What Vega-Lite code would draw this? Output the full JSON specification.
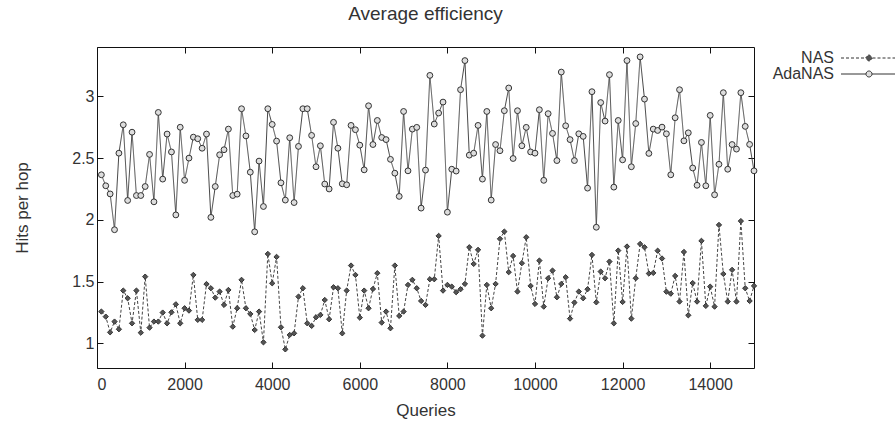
{
  "$schema": "https://vega.github.io/schema/vega-lite/v6.json",
  "width": 657,
  "height": 321,
  "autosize": {"type": "none"},
  "padding": {"left": 97, "top": 47, "right": 141, "bottom": 60},
  "background": "white",
  "config": {
    "font": "Liberation Sans",
    "view": {"stroke": "#111", "strokeWidth": 1},
    "axis": {
      "domain": false,
      "grid": false,
      "tickColor": "#111",
      "tickSize": -6,
      "labelFont": "Liberation Sans",
      "labelFontSize": 16,
      "labelColor": "#333",
      "titleFont": "Liberation Sans",
      "titleFontSize": 17,
      "titleFontWeight": "normal",
      "titleColor": "#333"
    }
  },
  "title": {
    "text": "Average efficiency",
    "fontSize": 19,
    "fontWeight": "normal",
    "color": "#333",
    "font": "Liberation Sans",
    "offset": 23
  },
  "resolve": {"axis": {"x": "independent", "y": "independent"}},
  "data": {
    "values": [
      {"q":100,"NAS":1.257,"AdaNAS":2.365},{"q":200,"NAS":1.216,"AdaNAS":2.276},{"q":300,"NAS":1.089,"AdaNAS":2.21},{"q":400,"NAS":1.176,"AdaNAS":1.92},{"q":500,"NAS":1.114,"AdaNAS":2.54},
      {"q":600,"NAS":1.427,"AdaNAS":2.77},{"q":700,"NAS":1.365,"AdaNAS":2.157},{"q":800,"NAS":1.162,"AdaNAS":2.71},{"q":900,"NAS":1.427,"AdaNAS":2.197},{"q":1000,"NAS":1.086,"AdaNAS":2.197},
      {"q":1100,"NAS":1.54,"AdaNAS":2.27},{"q":1200,"NAS":1.127,"AdaNAS":2.53},{"q":1300,"NAS":1.176,"AdaNAS":2.146},{"q":1400,"NAS":1.176,"AdaNAS":2.87},{"q":1500,"NAS":1.249,"AdaNAS":2.33},
      {"q":1600,"NAS":1.162,"AdaNAS":2.695},{"q":1700,"NAS":1.251,"AdaNAS":2.55},{"q":1800,"NAS":1.316,"AdaNAS":2.04},{"q":1900,"NAS":1.162,"AdaNAS":2.75},{"q":2000,"NAS":1.284,"AdaNAS":2.32},
      {"q":2100,"NAS":1.265,"AdaNAS":2.5},{"q":2200,"NAS":1.554,"AdaNAS":2.67},{"q":2300,"NAS":1.19,"AdaNAS":2.657},{"q":2400,"NAS":1.19,"AdaNAS":2.58},{"q":2500,"NAS":1.48,"AdaNAS":2.695},
      {"q":2600,"NAS":1.446,"AdaNAS":2.02},{"q":2700,"NAS":1.37,"AdaNAS":2.27},{"q":2800,"NAS":1.419,"AdaNAS":2.527},{"q":2900,"NAS":1.311,"AdaNAS":2.568},{"q":3000,"NAS":1.432,"AdaNAS":2.735},
      {"q":3100,"NAS":1.135,"AdaNAS":2.197},{"q":3200,"NAS":1.284,"AdaNAS":2.208},{"q":3300,"NAS":1.514,"AdaNAS":2.9},{"q":3400,"NAS":1.284,"AdaNAS":2.68},{"q":3500,"NAS":1.238,"AdaNAS":2.386},
      {"q":3600,"NAS":1.108,"AdaNAS":1.903},{"q":3700,"NAS":1.257,"AdaNAS":2.476},{"q":3800,"NAS":1.008,"AdaNAS":2.108},{"q":3900,"NAS":1.724,"AdaNAS":2.9},{"q":4000,"NAS":1.486,"AdaNAS":2.773},
      {"q":4100,"NAS":1.7,"AdaNAS":2.638},{"q":4200,"NAS":1.13,"AdaNAS":2.3},{"q":4300,"NAS":0.951,"AdaNAS":2.16},{"q":4400,"NAS":1.068,"AdaNAS":2.665},{"q":4500,"NAS":1.081,"AdaNAS":2.14},
      {"q":4600,"NAS":1.378,"AdaNAS":2.595},{"q":4700,"NAS":1.446,"AdaNAS":2.9},{"q":4800,"NAS":1.162,"AdaNAS":2.9},{"q":4900,"NAS":1.141,"AdaNAS":2.684},{"q":5000,"NAS":1.211,"AdaNAS":2.43},
      {"q":5100,"NAS":1.23,"AdaNAS":2.6},{"q":5200,"NAS":1.351,"AdaNAS":2.29},{"q":5300,"NAS":1.195,"AdaNAS":2.25},{"q":5400,"NAS":1.454,"AdaNAS":2.79},{"q":5500,"NAS":1.446,"AdaNAS":2.58},
      {"q":5600,"NAS":1.081,"AdaNAS":2.292},{"q":5700,"NAS":1.427,"AdaNAS":2.284},{"q":5800,"NAS":1.63,"AdaNAS":2.765},{"q":5900,"NAS":1.554,"AdaNAS":2.73},{"q":6000,"NAS":1.208,"AdaNAS":2.605},
      {"q":6100,"NAS":1.427,"AdaNAS":2.405},{"q":6200,"NAS":1.284,"AdaNAS":2.924},{"q":6300,"NAS":1.44,"AdaNAS":2.61},{"q":6400,"NAS":1.568,"AdaNAS":2.805},{"q":6500,"NAS":1.168,"AdaNAS":2.667},
      {"q":6600,"NAS":1.257,"AdaNAS":2.65},{"q":6700,"NAS":1.122,"AdaNAS":2.49},{"q":6800,"NAS":1.63,"AdaNAS":2.378},{"q":6900,"NAS":1.222,"AdaNAS":2.19},{"q":7000,"NAS":1.257,"AdaNAS":2.878},
      {"q":7100,"NAS":1.473,"AdaNAS":2.397},{"q":7200,"NAS":1.514,"AdaNAS":2.735},{"q":7300,"NAS":1.446,"AdaNAS":2.749},{"q":7400,"NAS":1.343,"AdaNAS":2.095},{"q":7500,"NAS":1.311,"AdaNAS":2.403},
      {"q":7600,"NAS":1.519,"AdaNAS":3.17},{"q":7700,"NAS":1.519,"AdaNAS":2.776},{"q":7800,"NAS":1.87,"AdaNAS":2.865},{"q":7900,"NAS":1.427,"AdaNAS":2.954},{"q":8000,"NAS":1.473,"AdaNAS":2.062},
      {"q":8100,"NAS":1.459,"AdaNAS":2.41},{"q":8200,"NAS":1.414,"AdaNAS":2.395},{"q":8300,"NAS":1.438,"AdaNAS":3.054},{"q":8400,"NAS":1.481,"AdaNAS":3.29},{"q":8500,"NAS":1.778,"AdaNAS":2.524},
      {"q":8600,"NAS":1.643,"AdaNAS":2.54},{"q":8700,"NAS":1.757,"AdaNAS":2.765},{"q":8800,"NAS":1.062,"AdaNAS":2.33},{"q":8900,"NAS":1.473,"AdaNAS":2.878},{"q":9000,"NAS":1.284,"AdaNAS":2.16},
      {"q":9100,"NAS":1.481,"AdaNAS":2.61},{"q":9200,"NAS":1.846,"AdaNAS":2.56},{"q":9300,"NAS":1.905,"AdaNAS":2.884},{"q":9400,"NAS":1.576,"AdaNAS":3.068},{"q":9500,"NAS":1.708,"AdaNAS":2.497},
      {"q":9600,"NAS":1.419,"AdaNAS":2.884},{"q":9700,"NAS":1.649,"AdaNAS":2.6},{"q":9800,"NAS":1.859,"AdaNAS":2.749},{"q":9900,"NAS":1.465,"AdaNAS":2.55},{"q":10000,"NAS":1.319,"AdaNAS":2.54},
      {"q":10100,"NAS":1.67,"AdaNAS":2.892},{"q":10200,"NAS":1.297,"AdaNAS":2.32},{"q":10300,"NAS":1.527,"AdaNAS":2.86},{"q":10400,"NAS":1.589,"AdaNAS":2.7},{"q":10500,"NAS":1.373,"AdaNAS":2.48},
      {"q":10600,"NAS":1.481,"AdaNAS":3.197},{"q":10700,"NAS":1.535,"AdaNAS":2.762},{"q":10800,"NAS":1.2,"AdaNAS":2.65},{"q":10900,"NAS":1.33,"AdaNAS":2.48},{"q":11000,"NAS":1.419,"AdaNAS":2.697},
      {"q":11100,"NAS":1.365,"AdaNAS":2.676},{"q":11200,"NAS":1.438,"AdaNAS":2.257},{"q":11300,"NAS":1.716,"AdaNAS":3.038},{"q":11400,"NAS":1.332,"AdaNAS":1.94},{"q":11500,"NAS":1.581,"AdaNAS":2.95},
      {"q":11600,"NAS":1.527,"AdaNAS":2.8},{"q":11700,"NAS":1.662,"AdaNAS":3.176},{"q":11800,"NAS":1.162,"AdaNAS":2.265},{"q":11900,"NAS":1.751,"AdaNAS":2.805},{"q":12000,"NAS":1.335,"AdaNAS":2.486},
      {"q":12100,"NAS":1.784,"AdaNAS":3.29},{"q":12200,"NAS":1.2,"AdaNAS":2.43},{"q":12300,"NAS":1.527,"AdaNAS":2.78},{"q":12400,"NAS":1.805,"AdaNAS":3.32},{"q":12500,"NAS":1.778,"AdaNAS":2.978},
      {"q":12600,"NAS":1.565,"AdaNAS":2.538},{"q":12700,"NAS":1.57,"AdaNAS":2.735},{"q":12800,"NAS":1.75,"AdaNAS":2.724},{"q":12900,"NAS":1.687,"AdaNAS":2.751},{"q":13000,"NAS":1.418,"AdaNAS":2.697},
      {"q":13100,"NAS":1.402,"AdaNAS":2.365},{"q":13200,"NAS":1.546,"AdaNAS":2.827},{"q":13300,"NAS":1.338,"AdaNAS":3.054},{"q":13400,"NAS":1.74,"AdaNAS":2.64},{"q":13500,"NAS":1.227,"AdaNAS":2.705},
      {"q":13600,"NAS":1.488,"AdaNAS":2.42},{"q":13700,"NAS":1.338,"AdaNAS":2.28},{"q":13800,"NAS":1.83,"AdaNAS":2.627},{"q":13900,"NAS":1.303,"AdaNAS":2.276},{"q":14000,"NAS":1.459,"AdaNAS":2.846},
      {"q":14100,"NAS":1.297,"AdaNAS":2.203},{"q":14200,"NAS":1.959,"AdaNAS":2.45},{"q":14300,"NAS":1.562,"AdaNAS":3.03},{"q":14400,"NAS":1.338,"AdaNAS":2.41},{"q":14500,"NAS":1.595,"AdaNAS":2.61},
      {"q":14600,"NAS":1.338,"AdaNAS":2.573},{"q":14700,"NAS":1.99,"AdaNAS":3.03},{"q":14800,"NAS":1.446,"AdaNAS":2.757},{"q":14900,"NAS":1.343,"AdaNAS":2.611},{"q":15000,"NAS":1.465,"AdaNAS":2.397}
    ]
  },
  "transform": [{"fold": ["NAS", "AdaNAS"], "as": ["series", "hits"]}],
  "layer": [
    {
      "mark": {"type": "line", "strokeWidth": 1, "color": "#444"},
      "encoding": {
        "x": {
          "field": "q", "type": "quantitative",
          "scale": {"domain": [0, 15000], "nice": false},
          "axis": {"orient": "bottom", "title": "Queries", "values": [0, 2000, 4000, 6000, 8000, 10000, 12000, 14000], "format": "d", "labelPadding": 14, "titlePadding": 10}
        },
        "y": {
          "field": "hits", "type": "quantitative",
          "scale": {"domain": [0.8, 3.4], "nice": false, "zero": false},
          "axis": {"orient": "left", "title": "Hits per hop", "values": [1, 1.5, 2, 2.5, 3], "format": "~g", "labelPadding": 9, "titlePadding": 40}
        },
        "detail": {"field": "series"},
        "strokeDash": {
          "field": "series", "type": "nominal",
          "scale": {"domain": ["NAS", "AdaNAS"], "range": [[3, 2], [1, 0]]},
          "legend": {
            "title": null,
            "orient": "none",
            "legendX": 741,
            "legendY": 3,
            "padding": 0,
            "symbolSize": 100,
            "symbolStrokeColor": "#333",
            "symbolStrokeWidth": 1,
            "labelAlign": "right",
            "labelOffset": -20,
            "labelFontSize": 16,
            "labelFont": "Liberation Sans",
            "labelColor": "#333",
            "rowPadding": -1,
            "encode": {
              "symbols": {
                "update": {
                  "shape": {"signal": "datum.value === 'NAS' ? 'M-1,0H3.9M5.3,0H10.2M4.6,-0.7L5.3,0L4.6,0.7L3.9,0Z' : 'M-1,0H4M5.2,0H10.2M4,0A0.6,0.6 0 1,1 5.2,0A0.6,0.6 0 1,1 4,0Z'"},
                  "fill": {"signal": "datum.value === 'NAS' ? '#555' : '#ddd'"},
                  "fillOpacity": {"value": 1},
                  "stroke": {"value": "#333"},
                  "strokeOpacity": {"value": 1},
                  "strokeWidth": {"value": 1},
                  "strokeDash": {"signal": "datum.value === 'NAS' ? [3, 2] : [1, 0]"}
                }
              }
            }
          }
        }
      }
    },
    {
      "transform": [{"filter": "datum.series === 'NAS'"}],
      "mark": {"type": "point", "shape": "diamond", "strokeWidth": 1, "stroke": "#333", "fill": "#555", "opacity": 1, "size": 28},
      "encoding": {
        "x": {
          "field": "q", "type": "quantitative",
          "axis": {"orient": "top", "labels": false, "title": null, "values": [0, 2000, 4000, 6000, 8000, 10000, 12000, 14000]}
        },
        "y": {
          "field": "hits", "type": "quantitative",
          "axis": {"orient": "right", "labels": false, "title": null, "values": [1, 1.5, 2, 2.5, 3]}
        }
      }
    },
    {
      "transform": [{"filter": "datum.series === 'AdaNAS'"}],
      "mark": {"type": "point", "shape": "circle", "strokeWidth": 1, "stroke": "#333", "fill": "#ddd", "opacity": 1, "size": 34},
      "encoding": {
        "x": {"field": "q", "type": "quantitative", "axis": null},
        "y": {"field": "hits", "type": "quantitative", "axis": null}
      }
    }
  ]
}
